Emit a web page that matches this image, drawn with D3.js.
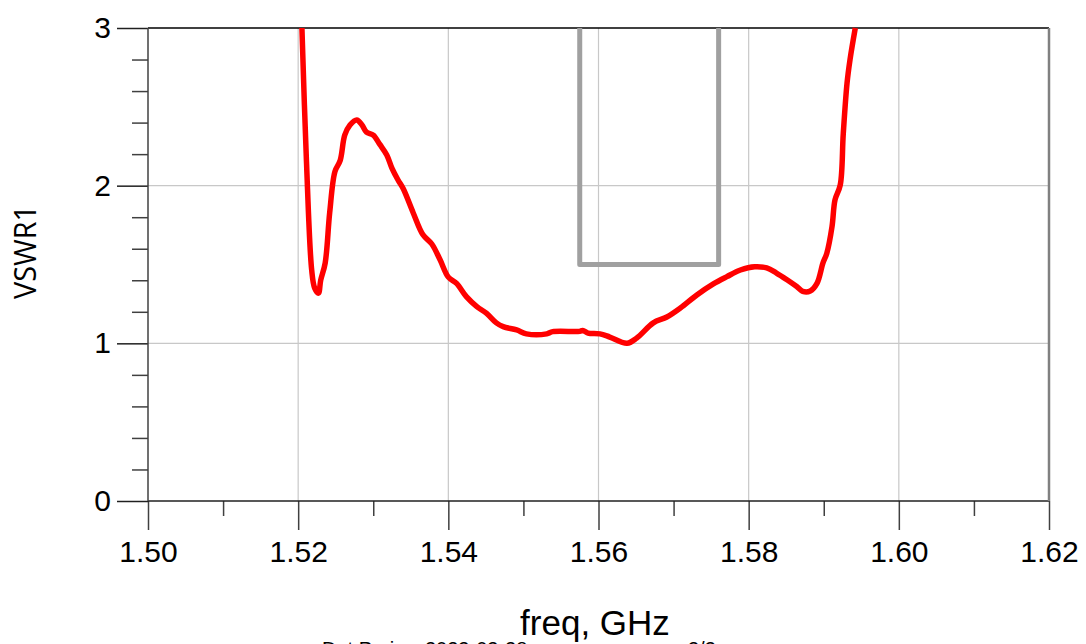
<!DOCTYPE html>
<html><head><meta charset="utf-8">
<script src="https://cdn.jsdelivr.net/npm/d3@7"></script>
<style>body{margin:0;background:#fff;overflow:hidden}svg{display:block}</style>
</head><body>
<svg id="c" width="1086" height="644"></svg>
<script>
const freq = [1.5205,1.5211,1.5218,1.5222,1.5227,1.5230,1.5236,1.5242,1.5249,1.5256,1.5262,1.5269,1.5278,1.5285,1.5291,1.5300,1.5309,1.5318,1.5325,1.5333,1.5340,1.5353,1.5366,1.5378,1.5389,1.5400,1.5411,1.5424,1.5438,1.5451,1.5464,1.5473,1.5491,1.5504,1.5531,1.5539,1.5575,1.5579,1.5586,1.5602,1.5615,1.5638,1.5651,1.5673,1.5691,1.5709,1.5731,1.5753,1.5771,1.5789,1.5808,1.5824,1.5837,1.5852,1.5864,1.5872,1.5882,1.5891,1.5899,1.5904,1.5911,1.5915,1.5922,1.5926,1.5931,1.5935,1.5942];
const vswr = [3.00,2.16,1.465,1.35,1.318,1.40,1.51,1.83,2.09,2.16,2.32,2.385,2.417,2.385,2.34,2.32,2.26,2.195,2.11,2.036,1.98,1.83,1.69,1.63,1.53,1.42,1.38,1.296,1.233,1.19,1.13,1.106,1.085,1.06,1.06,1.074,1.076,1.082,1.065,1.06,1.04,1.00,1.034,1.13,1.167,1.224,1.307,1.377,1.423,1.465,1.486,1.478,1.446,1.40,1.36,1.33,1.332,1.38,1.51,1.57,1.74,1.91,2.005,2.33,2.65,2.80,3.00];
const maskFreq = [1.5575,1.5575,1.5760,1.5760];
const maskVal = [3,1.5,1.5,3];
const xTicks = [1.50,1.52,1.54,1.56,1.58,1.60,1.62];
const xTickLabels = ["1.50","1.52","1.54","1.56","1.58","1.60","1.62"];
const xMinor = [1.51,1.53,1.55,1.57,1.59,1.61];
const yTicks = [0,1,2,3];
const yTickLabels = ["0","1","2","3"];
const yMinor = [0.2,0.4,0.6,0.8,1.2,1.4,1.6,1.8,2.2,2.4,2.6,2.8];

const svg = d3.select("#c");
const L=148,R=1049,T=28,B=501;
const x = d3.scaleLinear().domain([1.50,1.62]).range([L,R]);
const y = d3.scaleLinear().domain([0,3]).range([B,T]);
const font = "'Liberation Sans', Arial, sans-serif";

// grid
svg.append("g").selectAll("line").data(xTicks.slice(1,-1)).join("line")
  .attr("x1",d=>x(d)).attr("x2",d=>x(d)).attr("y1",T).attr("y2",B)
  .attr("stroke","#c8c8c8").attr("stroke-width",1.2);
svg.append("g").selectAll("line").data([1,2]).join("line")
  .attr("x1",L).attr("x2",R).attr("y1",d=>y(d)).attr("y2",d=>y(d))
  .attr("stroke","#c8c8c8").attr("stroke-width",1.2);

// x axis
const xa = svg.append("g").attr("transform",`translate(0,${B})`)
  .call(d3.axisBottom(x).tickValues(xTicks).tickSize(29).tickFormat((d,i)=>xTickLabels[i]).tickPadding(4));
xa.select(".domain").remove();
xa.selectAll(".tick line").attr("stroke","#404040").attr("stroke-width",1.5);
xa.selectAll(".tick text").attr("font-family",font).attr("font-size",30).attr("fill","#000").attr("dy","0.93em");
const xm = svg.append("g").attr("transform",`translate(0,${B})`)
  .call(d3.axisBottom(x).tickValues(xMinor).tickSize(15).tickFormat(""));
xm.select(".domain").remove();
xm.selectAll(".tick line").attr("stroke","#404040").attr("stroke-width",1.5);

// y axis
const ya = svg.append("g").attr("transform",`translate(${L},0)`)
  .call(d3.axisLeft(y).tickValues(yTicks).tickSize(31).tickFormat((d,i)=>yTickLabels[i]).tickPadding(6));
ya.select(".domain").remove();
ya.selectAll(".tick line").attr("stroke","#202020").attr("stroke-width",1.5);
ya.selectAll(".tick text").attr("font-family",font).attr("font-size",30).attr("fill","#000");
const ym = svg.append("g").attr("transform",`translate(${L},0)`)
  .call(d3.axisLeft(y).tickValues(yMinor).tickSize(16).tickFormat(""));
ym.select(".domain").remove();
ym.selectAll(".tick line").attr("stroke","#404040").attr("stroke-width",1.5);

// frame
svg.append("line").attr("x1",L).attr("x2",R).attr("y1",T).attr("y2",T).attr("stroke","#000").attr("stroke-width",1.5);
svg.append("line").attr("x1",L).attr("x2",R).attr("y1",B).attr("y2",B).attr("stroke","#202020").attr("stroke-width",1.5);
svg.append("line").attr("x1",L).attr("x2",L).attr("y1",T).attr("y2",B).attr("stroke","#404040").attr("stroke-width",1.5);
svg.append("line").attr("x1",R).attr("x2",R).attr("y1",T).attr("y2",B).attr("stroke","#808080").attr("stroke-width",2.5);

// clip
svg.append("clipPath").attr("id","clip").append("rect").attr("x",L).attr("y",T-1).attr("width",R-L).attr("height",B-T+1);

// mask
svg.append("path").attr("clip-path","url(#clip)")
  .attr("d", d3.line().x(d=>x(d[0])).y(d=>y(d[1]))(maskFreq.map((f,i)=>[f,maskVal[i]])))
  .attr("fill","none").attr("stroke","#a0a0a0").attr("stroke-width",5).attr("stroke-linejoin","round");

// curve
svg.append("path").attr("clip-path","url(#clip)")
  .attr("d", d3.line().x(d=>x(d[0])).y(d=>y(d[1])).curve(d3.curveCatmullRom.alpha(0.5))(freq.map((f,i)=>[f,vswr[i]])))
  .attr("fill","none").attr("stroke","#ff0000").attr("stroke-width",5.5).attr("stroke-linejoin","round");

// labels
svg.append("text").attr("x",595).attr("y",635).attr("text-anchor","middle")
  .attr("font-family",font).attr("font-size",35).text("freq, GHz");
svg.append("text").attr("transform","translate(36,252) rotate(-90)").attr("text-anchor","middle")
  .attr("font-family","'Open Sans', sans-serif").attr("font-size",31)
  .attr("textLength",94).attr("lengthAdjust","spacingAndGlyphs").text("VSWR1");

// footer text (cut off at the bottom edge, as in the reference)
svg.append("text").attr("x",322).attr("y",656).attr("font-family",font).attr("font-size",20).text("Dat Proj");
svg.append("text").attr("x",425).attr("y",656).attr("font-family",font).attr("font-size",20).text("2023-03-28");
svg.append("text").attr("x",688).attr("y",656).attr("font-family",font).attr("font-size",20).text("3/3");
</script>
</body></html>
